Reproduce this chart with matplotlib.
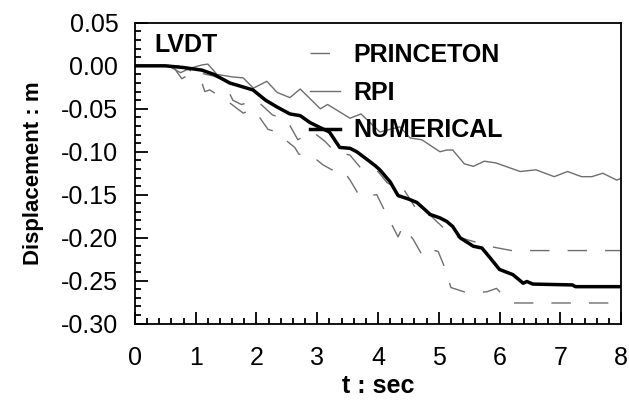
import matplotlib
matplotlib.use("Agg")
import matplotlib.pyplot as plt
from matplotlib.ticker import MultipleLocator, FormatStrFormatter

plt.rcParams["font.family"] = ["Liberation Sans", "DejaVu Sans"]
plt.rcParams["axes.unicode_minus"] = False

# numerical simulation
num_t = [0, 0.5, 0.8, 1.1, 1.3, 1.56, 1.75, 1.94, 2.15, 2.34, 2.55, 2.72, 2.88,
         3.05, 3.2, 3.37, 3.54, 3.65, 3.82, 3.95, 4.03, 4.2, 4.33, 4.5, 4.64,
         4.86, 5.02, 5.13, 5.23, 5.35, 5.57, 5.71, 5.84, 6.0, 6.22, 6.39, 6.45,
         6.55, 7.2, 7.25, 8.0]
num_d = [0, 0, -0.002, -0.005, -0.010, -0.020, -0.024, -0.028, -0.040, -0.048,
         -0.056, -0.058, -0.066, -0.072, -0.077, -0.095, -0.096, -0.100, -0.109,
         -0.116, -0.121, -0.135, -0.151, -0.155, -0.159, -0.173, -0.177, -0.181,
         -0.187, -0.200, -0.210, -0.212, -0.223, -0.237, -0.243, -0.253, -0.251,
         -0.254, -0.255, -0.257, -0.257]

# RPI centrifuge test
rpi_t = [0, 0.55, 0.75, 0.9, 1.1, 1.2, 1.35, 1.61, 1.78, 1.95, 2.17, 2.34, 2.55,
         2.72, 3.05, 3.17, 3.54, 3.72, 4.03, 4.36, 4.53, 4.72, 5.02, 5.13, 5.23,
         5.42, 5.57, 5.75, 5.94, 6.34, 6.6, 6.9, 7.12, 7.35, 7.52, 7.7, 7.93, 8.0]
rpi_d = [0, 0, -0.008, -0.003, 0.001, 0.002, -0.010, -0.013, -0.014, -0.026,
         -0.018, -0.031, -0.037, -0.027, -0.050, -0.045, -0.061, -0.056, -0.077,
         -0.071, -0.084, -0.086, -0.100, -0.098, -0.098, -0.114, -0.117, -0.111,
         -0.113, -0.123, -0.121, -0.129, -0.123, -0.129, -0.129, -0.125, -0.133,
         -0.131]

# Princeton centrifuge tests (two records)
pr1_t = [0, 0.55, 0.65, 0.77, 0.9, 1.05, 1.3, 1.45, 1.61, 1.75, 1.86, 2.0, 2.26,
         2.5, 2.68, 2.93, 3.13, 3.29, 3.54, 3.74, 4.0, 4.15, 4.3, 4.38, 4.48,
         4.64, 4.7, 4.86, 5.07, 5.18, 5.3, 5.6, 5.9, 6.2, 8.0]
pr1_d = [0, 0, -0.003, -0.015, -0.010, -0.008, -0.012, -0.016, -0.040, -0.045,
         -0.043, -0.040, -0.057, -0.063, -0.086, -0.077, -0.088, -0.100, -0.104,
         -0.121, -0.123, -0.136, -0.142, -0.139, -0.150, -0.168, -0.174, -0.174,
         -0.188, -0.198, -0.199, -0.205, -0.211, -0.215, -0.215]

pr2_t = [0, 0.7, 0.9, 1.07, 1.15, 1.23, 1.5, 1.78, 1.95, 2.0, 2.19, 2.34, 2.42,
         2.63, 2.7, 2.88, 3.09, 3.24, 3.41, 3.54, 3.7, 3.98, 4.12, 4.25, 4.33,
         4.41, 4.58, 4.74, 4.87, 4.99, 5.1, 5.2, 5.46, 5.79, 5.95, 6.06, 6.2, 8.0]
pr2_d = [0, 0, -0.005, -0.013, -0.030, -0.028, -0.040, -0.055, -0.051, -0.055,
         -0.074, -0.077, -0.083, -0.095, -0.103, -0.103, -0.115, -0.121, -0.120,
         -0.133, -0.152, -0.150, -0.170, -0.188, -0.199, -0.187, -0.202, -0.222,
         -0.214, -0.216, -0.235, -0.258, -0.264, -0.263, -0.259, -0.267, -0.276,
         -0.276]

GRAY = "#6e6e6e"

fig = plt.figure(figsize=(6.29, 4.01), dpi=100)
ax = fig.add_axes([0.2146, 0.193, 0.7727, 0.750])

dash = (14, 13)
ax.plot(pr1_t, pr1_d, color=GRAY, lw=1.0, dashes=dash, label="PRINCETON")
ax.plot(pr2_t, pr2_d, color=GRAY, lw=1.0, dashes=dash)
ax.plot(rpi_t, rpi_d, color=GRAY, lw=1.0, label="RPI")
ax.plot(num_t, num_d, color="black", lw=2.5, label="NUMERICAL")

ax.set_xlim(0, 8)
ax.set_ylim(-0.30, 0.05)
ax.xaxis.set_major_locator(MultipleLocator(1))
ax.xaxis.set_minor_locator(MultipleLocator(0.2))
ax.yaxis.set_major_locator(MultipleLocator(0.05))
ax.yaxis.set_minor_locator(MultipleLocator(0.01))
ax.yaxis.set_major_formatter(FormatStrFormatter("%.2f"))

ax.tick_params(which="both", direction="in", top=False, right=False, width=1.3,
               labelsize=18)
ax.tick_params(which="major", length=9)
ax.tick_params(which="minor", length=4.5)
ax.tick_params(axis="x", which="major", pad=16)
ax.tick_params(axis="y", which="major", pad=12)
for s in ax.spines.values():
    s.set_linewidth(1.3)

ax.set_xlabel("t : sec", fontsize=18, fontweight="bold", labelpad=3)
ax.set_ylabel("Displacement : m", fontsize=16, fontweight="bold", labelpad=12)

ax.text(0.04, 0.925, "LVDT", transform=ax.transAxes, fontsize=18,
        fontweight="bold", va="center", ha="left")

ax.legend(loc="upper left", bbox_to_anchor=(0.318, 1.0), frameon=False,
          prop={"weight": "bold", "size": 18}, handlelength=1.2,
          handletextpad=0.55, labelspacing=0.55, borderpad=0.3)

fig.savefig("out.png", dpi=100)
